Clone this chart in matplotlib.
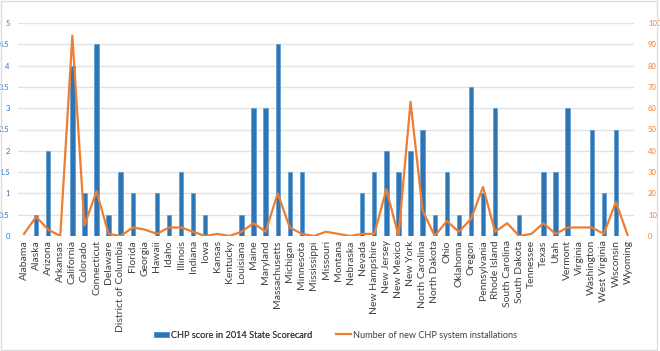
import numpy as np
import matplotlib
matplotlib.use('Agg')
import matplotlib.pyplot as plt
from matplotlib.patches import Rectangle

# Штаты (включая округ Колумбия)
states = ['Alabama', 'Alaska', 'Arizona', 'Arkansas', 'California', 'Colorado',
          'Connecticut', 'Delaware', 'District of Columbia', 'Florida', 'Georgia',
          'Hawaii', 'Idaho', 'Illinois', 'Indiana', 'Iowa', 'Kansas', 'Kentucky',
          'Louisiana', 'Maine', 'Maryland', 'Massachusetts', 'Michigan', 'Minnesota',
          'Mississippi', 'Missouri', 'Montana', 'Nebraska', 'Nevada', 'New Hampshire',
          'New Jersey', 'New Mexico', 'New York', 'North Carolina', 'North Dakota',
          'Ohio', 'Oklahoma', 'Oregon', 'Pennsylvania', 'Rhode Island',
          'South Carolina', 'South Dakota', 'Tennessee', 'Texas', 'Utah', 'Vermont',
          'Virginia', 'Washington', 'West Virginia', 'Wisconsin', 'Wyoming']

# Оценка CHP (левая ось)
chp_score = [0, 0.5, 2, 0, 4, 1, 4.5, 0.5, 1.5, 1, 0, 1, 0.5, 1.5, 1, 0.5, 0, 0,
             0.5, 3, 3, 4.5, 1.5, 1.5, 0, 0, 0, 0, 1, 1.5, 2, 1.5, 2, 2.5, 0.5,
             1.5, 0.5, 3.5, 1, 3, 0, 0.5, 0, 1.5, 1.5, 3, 0, 2.5, 1, 2.5, 0]

# Число новых установок (правая ось)
installs = [1, 9, 3, 0, 94, 5, 21, 1, 0, 4, 3, 1, 4, 4, 2, 0, 1, 0,
            2, 6, 2, 20, 4, 1, 0, 2, 1, 0, 1, 1, 22, 0, 63, 12, 0,
            7, 2, 8, 23, 2, 6, 0, 1, 6, 1, 4, 4, 4, 1, 16, 0]

left_ticks = [0, 0.5, 1, 1.5, 2, 2.5, 3, 3.5, 4, 4.5, 5]
left_labels = ['0', '0.5', '1', '1.5', '2', '2.5', '3', '3.5', '4', '4.5', '5']
right_ticks = list(range(0, 101, 10))

blue = '#2E75B6'
orange = '#ED7D31'
plt.rcParams['font.family'] = ['Lato', 'DejaVu Sans']

fig = plt.figure(figsize=(6.6, 3.51), dpi=100)
ax = fig.add_axes([18 / 660, 115 / 351, 616 / 660, 213 / 351])
x = np.arange(len(states))

bars = ax.bar(x, chp_score, width=0.36, color=blue, edgecolor='#5B9BD5',
              linewidth=0.5, zorder=2, label='CHP score in 2014 State Scorecard')
ax.set_xlim(-0.5, len(states) - 0.5)
ax.set_ylim(0, 5)
ax.set_yticks(left_ticks)
ax.set_yticklabels(left_labels)
ax.set_xticks(x)
ax.set_xticklabels(states, rotation=90, fontsize=7.5, color='#404040')
ax.tick_params(axis='y', colors=blue, labelsize=5.5, length=0, pad=6)
ax.tick_params(axis='x', length=0, pad=3)
ax.grid(axis='y', color='#E3E3E3', linewidth=1, zorder=0)
ax.set_axisbelow(True)
for s in ax.spines.values():
    s.set_visible(False)

ax2 = ax.twinx()
line, = ax2.plot(x, installs, color=orange, linewidth=1.6, zorder=3,
                 label='Number of new CHP system installations')
ax2.set_ylim(0, 100)
ax2.set_yticks(right_ticks)
ax2.tick_params(axis='y', colors=orange, labelsize=5.5, length=0, pad=10)
for s in ax2.spines.values():
    s.set_visible(False)

# две подписи легенды отдельно, как в исходнике
leg1 = fig.legend(handles=[bars], loc='center left', bbox_to_anchor=(146 / 660, 16 / 351),
                  frameon=False, fontsize=6.6, handlelength=1.6, handleheight=0.5,
                  handletextpad=0.25, labelcolor='#404040')
fig.legend(handles=[line], loc='center left', bbox_to_anchor=(328 / 660, 16 / 351),
           frameon=False, fontsize=6.6, handlelength=1.6, handletextpad=0.25,
           labelcolor='#404040')
fig.add_artist(leg1)

# рамка вокруг картинки
fig.patches.append(Rectangle((0.002, 0.004), 0.994, 0.992, transform=fig.transFigure,
                             fill=False, edgecolor='#DDDDDD', linewidth=1))

plt.savefig('out.png', dpi=100)
